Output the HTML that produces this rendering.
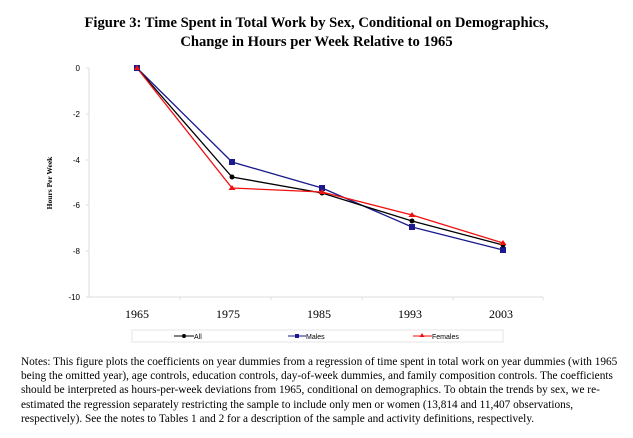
<!DOCTYPE html>
<html><head><style>
body{margin:0;background:#fff;width:633px;height:438px;overflow:hidden;font-family:"Liberation Serif",serif;}
.t{position:absolute;left:0;width:633px;text-align:center;font-weight:bold;font-size:14.6px;}
.n{position:absolute;left:21px;top:355px;width:600px;font-size:11.3px;line-height:14.2px;color:#000;}
</style></head><body>
<div class="t" style="top:15px">Figure 3: Time Spent in Total Work by Sex, Conditional on Demographics,</div>
<div class="t" style="top:34px">Change in Hours per Week Relative to 1965</div>
<svg width="633" height="438" style="position:absolute;left:0;top:0" font-family="Liberation Sans, sans-serif">
<line x1="89" y1="68" x2="89" y2="297" stroke="#ddd"/>
<line x1="89" y1="297" x2="543" y2="297" stroke="#ddd"/>
<g stroke="#ddd">
<line x1="86" y1="68" x2="89" y2="68"/><line x1="86" y1="114" x2="89" y2="114"/><line x1="86" y1="160" x2="89" y2="160"/><line x1="86" y1="205" x2="89" y2="205"/><line x1="86" y1="251" x2="89" y2="251"/><line x1="86" y1="297" x2="89" y2="297"/>
<line x1="180" y1="297" x2="180" y2="300"/><line x1="271" y1="297" x2="271" y2="300"/><line x1="362" y1="297" x2="362" y2="300"/><line x1="453" y1="297" x2="453" y2="300"/><line x1="543" y1="297" x2="543" y2="300"/>
</g>
<g font-size="8" text-anchor="end">
<text x="80" y="71">0</text><text x="80" y="117">-2</text><text x="80" y="163">-4</text><text x="80" y="208">-6</text><text x="80" y="254">-8</text><text x="80" y="300">-10</text>
</g>
<text transform="translate(52,183) rotate(-90)" font-size="7.5" font-weight="bold" text-anchor="middle" font-family="Liberation Serif, serif">Hours Per Week</text>
<g font-size="12" text-anchor="middle" font-family="Liberation Serif, serif">
<text x="137" y="318">1965</text><text x="228" y="318">1975</text><text x="319" y="318">1985</text><text x="410" y="318">1993</text><text x="501" y="318">2003</text>
</g>
<polyline fill="none" stroke="#1a1a8c" stroke-width="1.3" points="137,68 232,162 322,188 412,227 503,250"/>
<polyline fill="none" stroke="#000" stroke-width="1.3" points="137,68 232,177 322,193 412,221 503,245"/>
<polyline fill="none" stroke="#f01010" stroke-width="1.3" points="137,68 232,188 322,192 412,215 503,243"/>
<g fill="#1a1a8c"><rect x="134" y="65" width="6" height="6"/><rect x="229" y="159" width="6" height="6"/><rect x="319" y="185" width="6" height="6"/><rect x="409" y="224" width="6" height="6"/><rect x="500" y="247" width="6" height="6"/></g>
<g fill="#000"><circle cx="232" cy="177" r="2.5"/><circle cx="322" cy="193" r="2.5"/><circle cx="412" cy="221" r="2.5"/><circle cx="503" cy="245" r="2.5"/></g>
<g fill="#f01010"><path d="M137,65 l3,5 h-6z"/><path d="M232,185 l3.5,5 h-7z"/><path d="M322,189 l3.5,5 h-7z"/><path d="M412,212 l3.5,5 h-7z"/><path d="M503,240 l3.5,5 h-7z"/></g>
<rect x="132" y="330" width="371" height="12" fill="none" stroke="#e4e4e4"/>
<g font-size="7">
<line x1="174" y1="336" x2="194" y2="336" stroke="#000"/><circle cx="184" cy="336" r="2" fill="#000"/><text x="194" y="339">All</text>
<line x1="288" y1="336" x2="306" y2="336" stroke="#1a1a8c"/><rect x="295" y="334" width="4" height="4" fill="#1a1a8c"/><text x="306" y="339">Males</text>
<line x1="413" y1="336" x2="432" y2="336" stroke="#f01010"/><path d="M422,333 l2.5,4 h-5z" fill="#f01010"/><text x="432" y="339">Females</text>
</g>
</svg>
<div class="n">Notes: This figure plots the coefficients on year dummies from a regression of time spent in total work on year dummies (with 1965 being the omitted year), age controls, education controls, day-of-week dummies, and family composition controls. The coefficients should be interpreted as hours-per-week deviations from 1965, conditional on demographics. To obtain the trends by sex, we re-estimated the regression separately restricting the sample to include only men or women (13,814 and 11,407 observations, respectively). See the notes to Tables 1 and 2 for a description of the sample and activity definitions, respectively.</div>
</body></html>
